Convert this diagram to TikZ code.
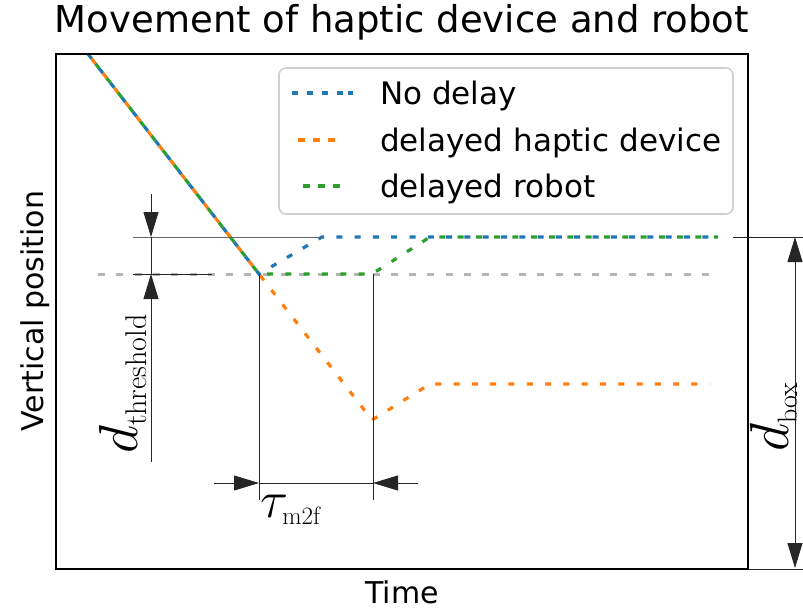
\RequirePackage{fix-cm}
\documentclass[tikz,border=0pt]{standalone}
\usepackage[no-math]{fontspec}
\newfontfamily\dejavu{DejaVu Sans}
\usetikzlibrary{arrows.meta}

\definecolor{tabblue}{HTML}{1F77B4}
\definecolor{taborange}{HTML}{FF7F0E}
\definecolor{tabgreen}{HTML}{2CA02C}
\definecolor{refgray}{HTML}{B4B4B4}
\definecolor{legframe}{HTML}{D0D0D0}

\newcommand{\subtext}[2]{\hbox{\fontsize{#1}{#1}\selectfont\rmfamily #2}}

\tikzset{
  series/.style={line width=3.2pt, dash pattern=on 6pt off 12.3pt},
  legsample/.style={line width=3.2pt},
  dimline/.style={line width=0.9pt, black!85},
  tipend/.style={-{Triangle[length=25pt,width=15pt]}},
  bothtips/.style={{Triangle[length=25pt,width=15pt]}-{Triangle[length=25pt,width=15pt]}},
  legtext/.style={anchor=base west, inner sep=0pt, font=\dejavu\fontsize{31}{37}\selectfont},
  axtext/.style={inner sep=0pt, font=\dejavu\fontsize{30}{36}\selectfont},
  mathlabel/.style={inner sep=0pt}
}

\begin{document}
\begin{tikzpicture}[x=1pt,y=-1pt]
\useasboundingbox (0,0) rectangle (803,615);

% key points of the trajectories
\coordinate (start) at (88,54);
\coordinate (contact) at (259,274);
\coordinate (blueup) at (322,237);
\coordinate (blueend) at (718,237);
\coordinate (greenwait) at (372,274);
\coordinate (greenup) at (430,237);
\coordinate (greenend) at (718,237);
\coordinate (orangelow) at (372,420);
\coordinate (orangeup) at (430,384);
\coordinate (orangeend) at (710,384);
\coordinate (thrL) at (98,274);
\coordinate (thrR) at (718,274);

% threshold level
\draw[refgray, line width=3pt, dash pattern=on 7pt off 11.3pt] (thrL) -- (thrR);

% trajectories
\draw[series, tabblue, dash phase=0pt] (start) -- (contact) -- (blueup) -- (blueend);
\draw[series, taborange, dash phase=12.2pt] (start) -- (contact) -- (orangelow) -- (orangeup) -- (orangeend);
\draw[series, tabgreen, dash phase=6.1pt] (start) -- (contact) -- (greenwait) -- (greenup) -- (greenend);

% axes frame
\draw[line width=2pt] (56,54) rectangle (748,569);

% legend
\draw[rounded corners=7pt, draw=legframe, line width=1.6pt, fill=white] (279,68) rectangle (733,214);
\coordinate (lbA) at (292,93);  \coordinate (lbB) at (355,93);
\coordinate (loA) at (298,140); \coordinate (loB) at (335,140);
\coordinate (lgA) at (303,186); \coordinate (lgB) at (340,186);
\draw[legsample, tabblue, dash pattern=on 6pt off 9pt on 6pt off 9pt on 6pt off 9pt on 6pt off 5pt on 5pt off 20pt] (lbA) -- (lbB);
\draw[legsample, taborange, dash pattern=on 7pt off 8pt] (loA) -- (loB);
\draw[legsample, tabgreen, dash pattern=on 7pt off 8pt] (lgA) -- (lgB);
\node[legtext] (t1) at (380,105) {No delay};
\node[legtext] (t2) at (380,151) {delayed haptic device};
\node[legtext] (t3) at (380,197) {delayed robot};

% titles
\node[axtext, anchor=base, font=\dejavu\fontsize{37}{44}\selectfont] (title) at (402,33) {Movement of haptic device and robot};
\node[axtext, anchor=base] (xlab) at (402,603) {Time};
\node[axtext, rotate=90] (ylab) at (35,311) {Vertical position};

% threshold dimension
\coordinate (thTop) at (151,194);
\coordinate (thA) at (151,237);
\coordinate (thB) at (151,274);
\coordinate (thBot) at (151,462);
\coordinate (exUa) at (133,237); \coordinate (exUb) at (212,237);
\coordinate (exUc) at (177,237); \coordinate (exUd) at (322,237);
\coordinate (exLa) at (133,274); \coordinate (exLb) at (212,274);
\draw[dimline, black!60] (exUa) -- (exUb);
\draw[dimline, black!60] (exUc) -- (exUd);
\draw[dimline] (exLa) -- (exLb);
\draw[dimline] (thA) -- (thB);
\draw[dimline, tipend] (thTop) -- (thA);
\draw[dimline, tipend] (thBot) -- (thB);
\node[mathlabel, rotate=90] (lth) at (123,384) {\fontsize{55}{60}\selectfont$d_{\subtext{30}{threshold}}$};

% delay dimension
\coordinate (tLtop) at (259,274); \coordinate (tLbot) at (259,500);
\coordinate (tRtop) at (373,274); \coordinate (tRbot) at (373,500);
\coordinate (tL) at (259,483); \coordinate (tR) at (373,483);
\coordinate (tLout) at (214,483); \coordinate (tRout) at (418,483);
\draw[dimline] (tLtop) -- (tLbot);
\draw[dimline] (tRtop) -- (tRbot);
\draw[dimline] (tL) -- (tR);
\draw[dimline, tipend] (tLout) -- (tL);
\draw[dimline, tipend] (tRout) -- (tR);
\node[mathlabel, anchor=base west] (ltau) at (260,517) {\fontsize{52}{56}\selectfont$\tau_{\subtext{25}{m2f}}$};

% box dimension
\coordinate (bxTa) at (733,237); \coordinate (bxTb) at (803,237);
\coordinate (bxBa) at (748,569); \coordinate (bxBb) at (803,569);
\coordinate (bxT) at (795,237); \coordinate (bxB) at (795,568);
\draw[dimline] (bxTa) -- (bxTb);
\draw[dimline] (bxBa) -- (bxBb);
\draw[dimline, bothtips] (bxT) -- (bxB);
\node[mathlabel, rotate=90] (lbox) at (774,417) {\fontsize{55}{60}\selectfont$d_{\subtext{28}{box}}$};
\end{tikzpicture}
\end{document}
